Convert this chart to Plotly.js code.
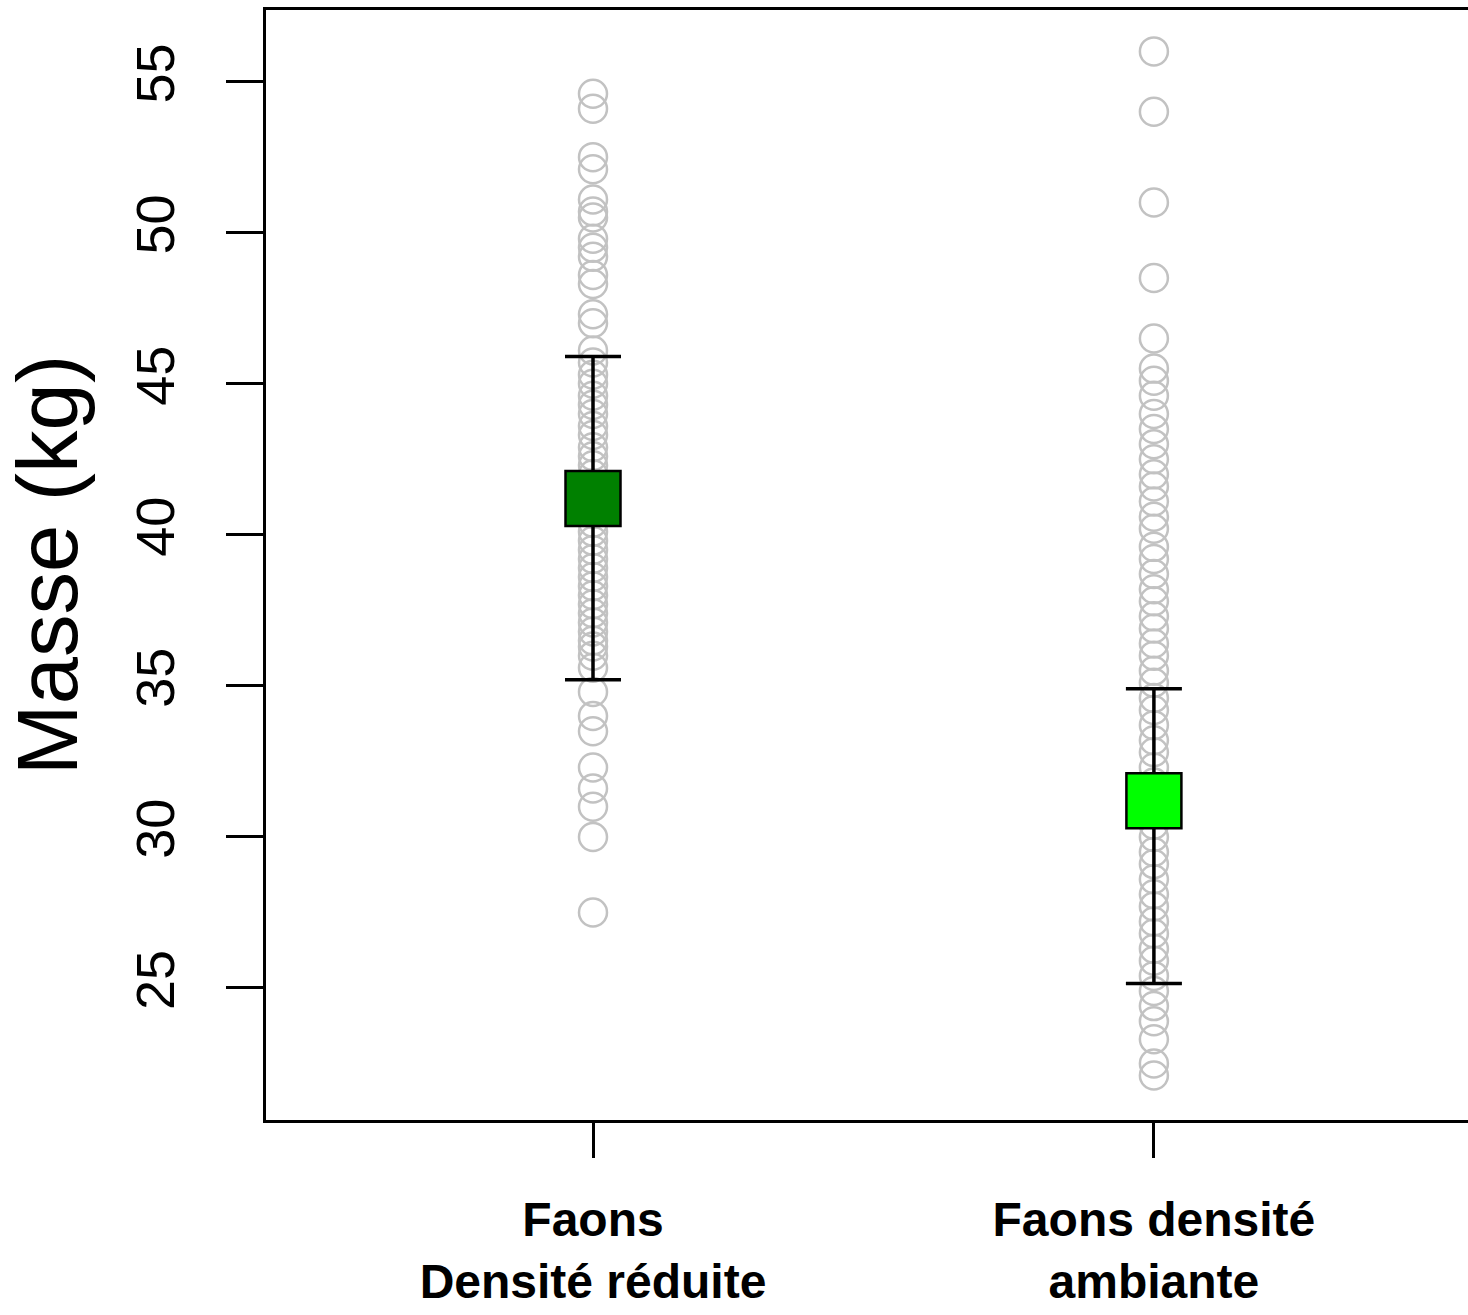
<!DOCTYPE html>
<html>
<head>
<meta charset="utf-8">
<script src="https://cdn.plot.ly/plotly-3.0.1.min.js"></script>
<style>
  html, body { margin: 0; padding: 0; background: #ffffff; }
  #chart { width: 1468px; height: 1315px; }
</style>
</head>
<body>
<div id="chart"></div>
<script>
// Group positions and labels
const groupPos = [1, 2];
const groupLabels = ["<b>Faons</b><br><b>Densité réduite</b>", "<b>Faons densité</b><br><b>ambiante</b>"];

// Individual masses (kg)
const massReduite = [54.6, 54.1, 52.5, 52.1, 51.1, 50.7, 50.5, 49.8, 49.5, 49.2, 48.6, 48.3,
  47.3, 47.0, 46.1, 45.7, 45.3, 45.0, 44.6, 44.3, 44.0, 43.6, 43.3, 42.9, 42.6, 42.3,
  42.0, 41.7, 41.4, 41.0, 40.7, 40.4, 40.1, 39.8, 39.5, 39.2, 38.9, 38.6, 38.3, 38.0,
  37.7, 37.4, 37.1, 36.8, 36.5, 36.3, 36.0, 35.6, 34.8, 34.0, 33.5, 32.3, 31.6, 31.0,
  30.0, 27.5];
const massAmbiante = [56.0, 54.0, 51.0, 48.5, 46.5, 45.5, 45.1, 44.6, 44.0, 43.5, 43.0, 42.5,
  42.0, 41.6, 41.1, 40.6, 40.2, 39.6, 39.2, 38.7, 38.2, 37.8, 37.3, 36.9, 36.4, 36.0,
  35.5, 35.1, 34.6, 34.2, 33.7, 33.2, 32.8, 32.3, 31.8, 31.4, 30.9, 30.4, 30.0, 29.5,
  29.1, 28.6, 28.1, 27.7, 27.2, 26.8, 26.3, 25.9, 25.4, 24.9, 24.4, 23.9, 23.3, 22.5, 22.1];

// Group means and interval bounds
const means = [41.2, 31.2];
const upper = [45.9, 34.9];
const lower = [35.2, 25.15];
const meanColors = ["#008000", "#00ff00"];

// Y ticks
const yTicks = [25, 30, 35, 40, 45, 50, 55];

const pointStyle = {
  symbol: "circle-open",
  size: 28,
  color: "#c2c2c2",
  line: { color: "#c2c2c2", width: 2.5 }
};

const traces = [
  {
    type: "scatter", mode: "markers",
    x: massReduite.map(() => groupPos[0]), y: massReduite,
    marker: pointStyle, hoverinfo: "y", showlegend: false
  },
  {
    type: "scatter", mode: "markers",
    x: massAmbiante.map(() => groupPos[1]), y: massAmbiante,
    marker: pointStyle, hoverinfo: "y", showlegend: false
  },
  {
    type: "scatter", mode: "markers",
    x: groupPos, y: means,
    error_y: {
      type: "data", symmetric: false,
      array: upper.map((u, i) => u - means[i]),
      arrayminus: lower.map((l, i) => means[i] - l),
      color: "#000000", thickness: 3.5, width: 28
    },
    marker: { symbol: "square", size: 55, color: meanColors, line: { color: "#000000", width: 2.5 } },
    showlegend: false
  }
];

const layout = {
  width: 1468, height: 1315,
  margin: { l: 266, r: 0, t: 10, b: 195, pad: 0 },
  paper_bgcolor: "#ffffff", plot_bgcolor: "#ffffff",
  font: { family: "Liberation Sans, Arial, sans-serif", color: "#000000" },
  xaxis: {
    range: [0.417, 2.56],
    tickmode: "array", tickvals: groupPos, ticktext: groupLabels,
    ticks: "outside", ticklen: 35, tickwidth: 3, tickcolor: "#000000",
    tickfont: { size: 48, family: "Liberation Sans, Arial, sans-serif", color: "#000000" },
    ticklabelstandoff: 20,
    showline: true, linecolor: "#000000", linewidth: 3, mirror: true,
    showgrid: false, zeroline: false, fixedrange: true
  },
  yaxis: {
    range: [20.63, 57.37],
    tickmode: "array", tickvals: yTicks, ticktext: yTicks.map(String),
    ticks: "outside", ticklen: 37, tickwidth: 3, tickcolor: "#000000",
    tickangle: -90,
    tickfont: { size: 54, family: "Liberation Sans, Arial, sans-serif", color: "#000000" },
    ticklabelstandoff: 30,
    showline: true, linecolor: "#000000", linewidth: 3, mirror: false,
    showgrid: false, zeroline: false, fixedrange: true,
    title: { text: "Masse (kg)", font: { size: 85, family: "Liberation Sans, Arial, sans-serif", color: "#000000" }, standoff: 28 }
  }
};

Plotly.newPlot("chart", traces, layout, { displayModeBar: false, staticPlot: true });
</script>
</body>
</html>
